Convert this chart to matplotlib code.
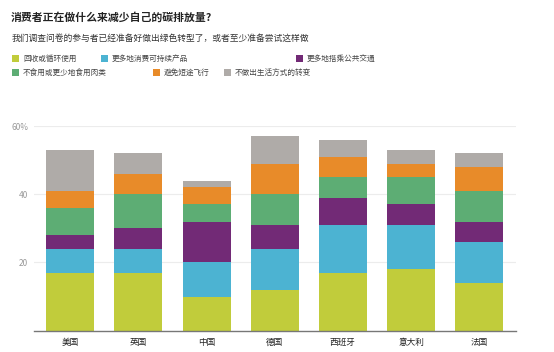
import matplotlib
matplotlib.use('Agg')
import matplotlib.pyplot as plt
from matplotlib.patches import Rectangle
import numpy as np

plt.rcParams['font.family'] = ['Noto Sans CJK SC', 'DejaVu Sans']

countries = ['美国', '英国', '中国', '德国', '西班牙', '意大利', '法国']
labels = ['回收或循环使用', '更多地消费可持续产品', '更多地搭乘公共交通',
          '不食用或更少地食用肉类', '避免短途飞行', '不做出生活方式的转变']
recycle = [17, 17, 10, 12, 17, 18, 14]
sustainable = [7, 7, 10, 12, 14, 13, 12]
transit = [4, 6, 12, 7, 8, 6, 6]
meat = [8, 10, 5, 9, 6, 8, 9]
flights = [5, 6, 5, 9, 6, 4, 7]
no_change = [12, 6, 2, 8, 5, 4, 4]
series = [recycle, sustainable, transit, meat, flights, no_change]
colors = ['#c1cc3b', '#4cb3d2', '#722a76', '#5dad74', '#e88b29', '#afaba8']
yticks = [20, 40, 60]
ytick_labels = ['20', '40', '60%']

W, H = 554, 352
fig = plt.figure(figsize=(W / 100, H / 100), dpi=100)
ax = fig.add_axes([33.7 / W, 1 - 330.7 / H, (515.7 - 33.7) / W, (330.7 - 126) / H])

x = np.arange(len(countries))
bottom = np.zeros(len(countries))
for vals, c in zip(series, colors):
    ax.bar(x, vals, width=0.704, bottom=bottom, color=c, linewidth=0, zorder=2)
    bottom += np.array(vals)

ax.set_xlim(-0.535, len(countries) - 1 + 0.535)
ax.set_ylim(0, 60)
ax.set_yticks(yticks)
ax.set_yticklabels(ytick_labels)
ax.yaxis.grid(True, color='#ececec', linewidth=0.8, zorder=0)
ax.set_xticks(x)
ax.set_xticklabels(countries, fontsize=6.2, color='#222222')
ax.tick_params(axis='y', length=0, labelsize=6, colors='#999999', pad=4)
ax.tick_params(axis='x', length=0, pad=5)
for s in ['top', 'right', 'left']:
    ax.spines[s].set_visible(False)
ax.spines['bottom'].set_color('#777777')
ax.spines['bottom'].set_linewidth(1.0)

# title and subtitle
fig.text(11 / W, 1 - 17.5 / H, '消费者正在做什么来减少自己的碳排放量?', fontsize=7.8,
         fontweight='bold', color='#222222', va='center', ha='left')
fig.text(12 / W, 1 - 38 / H, '我们调查问卷的参与者已经准备好做出绿色转型了，或者至少准备尝试这样做',
         fontsize=6.3, color='#333333', va='center', ha='left')

# legend
leg_pos = [(12, 58.5), (101, 58.5), (295.5, 58.5), (12, 72.5), (152.5, 72.5), (224, 72.5)]
for (lx, ly), lab, c in zip(leg_pos, labels, colors):
    fig.add_artist(Rectangle((lx / W, 1 - (ly + 3.5) / H), 7 / W, 7 / H,
                             transform=fig.transFigure, color=c, linewidth=0))
    fig.text((lx + 11) / W, 1 - ly / H, lab, fontsize=5.5, color='#444444',
             va='center', ha='left')

fig.savefig('out.png', dpi=100)
